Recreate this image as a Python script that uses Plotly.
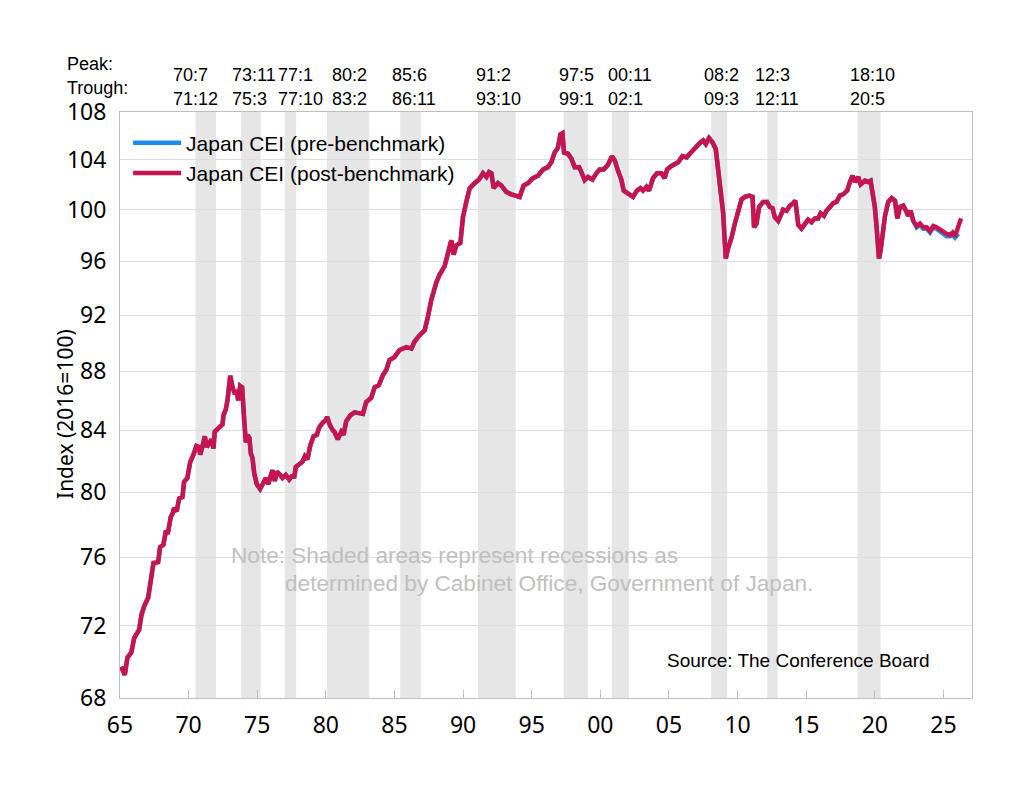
import math
import plotly.graph_objects as go

# ---------------- data ----------------
years = [
    1965.08, 1965.35, 1965.54, 1965.83, 1966.03, 1966.39, 1966.56, 1966.76, 1967.05, 1967.24,
    1967.44, 1967.78, 1967.92, 1968.16, 1968.33, 1968.50, 1968.70, 1968.85, 1968.94, 1969.13,
    1969.31, 1969.55, 1969.67, 1969.91, 1970.11, 1970.35, 1970.57, 1970.77, 1970.84, 1971.00,
    1971.18, 1971.32, 1971.50, 1971.67, 1971.81, 1971.90, 1972.23, 1972.47, 1972.54, 1972.71,
    1972.83, 1973.03, 1973.20, 1973.37, 1973.51, 1973.61, 1973.76, 1973.90, 1974.05, 1974.17,
    1974.29, 1974.43, 1974.53, 1974.65, 1974.78, 1974.97, 1975.21, 1975.46, 1975.63, 1975.80,
    1975.94, 1976.11, 1976.28, 1976.43, 1976.67, 1976.84, 1977.08, 1977.33, 1977.50, 1977.70,
    1977.81, 1978.06, 1978.30, 1978.47, 1978.66, 1978.86, 1979.10, 1979.34, 1979.52, 1979.76,
    1980.00, 1980.10, 1980.27, 1980.50, 1980.63, 1980.87, 1981.12, 1981.29, 1981.48, 1981.78,
    1982.09, 1982.40, 1982.70, 1982.94, 1983.31, 1983.55, 1983.86, 1984.16, 1984.40, 1984.64,
    1985.00, 1985.37, 1985.86, 1986.23, 1986.47, 1986.83, 1987.20, 1987.44, 1987.68, 1988.05,
    1988.29, 1988.65, 1988.90, 1989.14, 1989.31, 1989.50, 1989.80, 1989.99, 1990.23, 1990.48,
    1990.84, 1991.16, 1991.45, 1991.70, 1991.89, 1992.06, 1992.23, 1992.54, 1992.79, 1993.15,
    1993.52, 1993.88, 1994.12, 1994.41, 1994.73, 1995.09, 1995.46, 1995.82, 1996.18, 1996.43,
    1996.67, 1996.91, 1997.09, 1997.24, 1997.35, 1997.64, 1997.89, 1998.13, 1998.45, 1998.62,
    1998.86, 1999.10, 1999.42, 1999.71, 1999.95, 2000.25, 2000.56, 2000.85, 2001.05, 2001.29,
    2001.54, 2001.70, 2001.95, 2002.20, 2002.38, 2002.67, 2002.92, 2003.11, 2003.36, 2003.55,
    2003.84, 2004.13, 2004.45, 2004.69, 2004.86, 2005.18, 2005.50, 2005.67, 2005.98, 2006.28,
    2006.52, 2006.81, 2007.00, 2007.25, 2007.49, 2007.68, 2007.92, 2008.17, 2008.41, 2008.58,
    2008.83, 2008.95, 2009.07, 2009.14, 2009.31, 2009.56, 2009.80, 2010.04, 2010.29, 2010.53,
    2010.84, 2011.09, 2011.20, 2011.38, 2011.57, 2011.86, 2012.15, 2012.35, 2012.55, 2012.71,
    2012.96, 2013.13, 2013.32, 2013.57, 2013.81, 2014.05, 2014.20, 2014.30, 2014.42, 2014.66,
    2014.90, 2015.14, 2015.39, 2015.63, 2015.87, 2016.05, 2016.29, 2016.48, 2016.73, 2016.97,
    2017.21, 2017.45, 2017.69, 2017.99, 2018.18, 2018.38, 2018.55, 2018.79, 2018.96, 2019.28,
    2019.52, 2019.69, 2019.88, 2020.00, 2020.13, 2020.30, 2020.42, 2020.57, 2020.74, 2020.98,
    2021.23, 2021.47, 2021.64, 2021.84, 2022.07, 2022.27, 2022.43, 2022.61, 2022.80, 2023.05,
    2023.29, 2023.53, 2023.78, 2024.02, 2024.26, 2024.50, 2024.75, 2024.99, 2025.23, 2025.47,
    2025.67, 2025.84, 2025.96, 2026.13, 2026.28,
]

post_benchmark = [
    69.7, 69.25, 70.2, 70.5, 71.3, 71.75, 72.6, 73.1, 73.6, 74.5,
    75.65, 75.7, 76.6, 76.75, 77.5, 77.5, 78.45, 78.7, 79.0, 78.8,
    79.6, 79.7, 80.65, 80.9, 81.9, 82.4, 82.97, 82.9, 82.4, 82.9,
    83.6, 82.9, 83.2, 83.4, 82.8, 83.9, 84.2, 84.4, 85.0, 85.4,
    86.0, 87.7, 86.9, 86.45, 86.7, 86.0, 87.0, 86.9, 84.7, 83.2,
    83.7, 83.5, 82.5, 82.2, 81.2, 80.5, 80.2, 80.6, 80.9, 80.5,
    81.0, 81.4, 80.7, 81.3, 81.1, 80.9, 81.1, 80.8, 81.0, 81.0,
    81.6, 81.8, 81.95, 82.3, 82.1, 83.0, 83.6, 83.7, 84.2, 84.5,
    84.7, 84.9, 84.4, 84.0, 83.9, 83.4, 83.9, 83.7, 84.6, 85.0,
    85.2, 85.15, 85.1, 85.9, 86.2, 86.9, 87.05, 87.75, 88.1, 88.8,
    89.0, 89.5, 89.7, 89.6, 90.1, 90.55, 90.9, 91.9, 93.1, 94.4,
    95.0, 95.6, 96.5, 97.6, 96.5, 97.2, 97.4, 99.4, 100.6, 101.7,
    102.1, 102.4, 102.9, 102.6, 103.0, 102.9, 101.7, 102.1, 101.9, 101.4,
    101.2, 101.1, 101.0, 101.9, 102.1, 102.5, 102.7, 103.2, 103.4, 103.8,
    104.6, 105.0, 106.1, 106.2, 104.6, 104.5, 104.1, 103.4, 103.4, 103.0,
    102.35, 102.6, 102.4, 102.9, 103.2, 103.2, 103.6, 104.3, 103.95, 103.1,
    102.35, 101.5, 101.3, 101.1, 101.0, 101.5, 101.7, 101.5, 101.8, 101.5,
    102.5, 102.9, 102.9, 102.5, 103.2, 103.5, 103.7, 103.8, 104.3, 104.2,
    104.5, 104.9, 105.1, 105.4, 105.6, 105.3, 105.8, 105.45, 104.9, 103.2,
    101.3, 99.7, 97.4, 96.2, 97.0, 97.8, 98.9, 99.8, 100.8, 101.0,
    101.1, 101.0, 98.6, 98.9, 100.2, 100.6, 100.6, 100.2, 100.1, 99.4,
    99.1, 99.5, 100.0, 99.9, 100.3, 100.5, 100.7, 99.9, 98.8, 98.5,
    98.8, 99.2, 99.0, 99.3, 99.3, 99.7, 99.5, 99.9, 100.2, 100.5,
    100.6, 101.1, 101.2, 101.5, 102.2, 102.7, 102.2, 102.6, 102.0, 102.3,
    102.2, 102.3, 101.0, 100.2, 98.6, 96.2, 96.8, 98.2, 99.5, 100.6,
    100.9, 100.7, 99.3, 100.2, 100.3, 99.9, 99.5, 99.9, 99.1, 98.7,
    98.9, 98.6, 98.6, 98.3, 98.7, 98.6, 98.4, 98.2, 98.1, 98.0,
    98.2, 97.9, 98.3, 98.6, 99.3,
]

# pre-benchmark differs only at the end of the sample
pre_tail_years = [2023.05, 2023.29, 2023.53, 2023.78, 2024.02, 2024.26, 2024.50, 2024.75,
                  2024.99, 2025.23, 2025.47, 2025.67, 2025.84, 2025.96, 2026.08]
pre_tail_values = [98.6, 98.8, 98.5, 98.5, 98.2, 98.6, 98.5, 98.3,
                   98.1, 97.9, 97.9, 98.0, 97.8, 98.0, 98.1]

# recessions (peak, trough) as year, month
peaks = [(1970, 7), (1973, 11), (1977, 1), (1980, 2), (1985, 6), (1991, 2),
         (1997, 5), (2000, 11), (2008, 2), (2012, 3), (2018, 10)]
troughs = [(1971, 12), (1975, 3), (1977, 10), (1983, 2), (1986, 11), (1993, 10),
           (1999, 1), (2002, 1), (2009, 3), (2012, 11), (2020, 5)]
peak_labels = ["70:7", "73:11", "77:1", "80:2", "85:6", "91:2", "97:5", "00:11", "08:2", "12:3", "18:10"]
trough_labels = ["71:12", "75:3", "77:10", "83:2", "86:11", "93:10", "99:1", "02:1", "09:3", "12:11", "20:5"]
label_x = [1968.75, 1973.05, 1976.33, 1980.27, 1984.65, 1990.77, 1996.83, 2000.40, 2007.40, 2011.10, 2018.03]

x_tickvals = [1965, 1970, 1975, 1980, 1985, 1990, 1995, 2000, 2005, 2010, 2015, 2020, 2025]
x_ticktext = ["65", "70", "75", "80", "85", "90", "95", "00", "05", "10", "15", "20", "25"]
y_tickvals = [68, 72, 76, 80, 84, 88, 92, 96, 100, 104, 108]

# ---------------- figure ----------------
cut = years.index(pre_tail_years[0])
pre_years = years[:cut] + pre_tail_years
pre_values = post_benchmark[:cut] + pre_tail_values

fig = go.Figure()
fig.add_trace(go.Scatter(x=pre_years, y=pre_values, mode="lines",
                         name="Japan CEI (pre-benchmark)",
                         line=dict(color="#1C8CF0", width=4.5)))
fig.add_trace(go.Scatter(x=years, y=post_benchmark, mode="lines",
                         name="Japan CEI (post-benchmark)",
                         line=dict(color="#C8134F", width=4.5)))

shapes = []
for (py, pm), (ty, tm) in zip(peaks, troughs):
    shapes.append(dict(type="rect", xref="x", yref="paper",
                       x0=py + (pm - 1) / 12, x1=ty + tm / 12, y0=0, y1=1,
                       fillcolor="#E6E6E6", line=dict(width=0), layer="below"))

ann = []
lab_font = dict(family="Liberation Sans, Arial", size=18, color="#000000")
for lx, pl, tl in zip(label_x, peak_labels, trough_labels):
    ann.append(dict(x=lx, y=1.063, xref="x", yref="paper", text=pl, showarrow=False,
                    xanchor="left", yanchor="middle", font=lab_font))
    ann.append(dict(x=lx, y=1.022, xref="x", yref="paper", text=tl, showarrow=False,
                    xanchor="left", yanchor="middle", font=lab_font))
ann.append(dict(x=-0.0646, y=1.082, xref="paper", yref="paper", text="Peak:", showarrow=False,
                xanchor="left", yanchor="middle", font=lab_font))
ann.append(dict(x=-0.0646, y=1.041, xref="paper", yref="paper", text="Trough:", showarrow=False,
                xanchor="left", yanchor="middle", font=lab_font))
note_font = dict(family="Liberation Sans, Arial", size=22.6, color="#C0C0C0")
ann.append(dict(x=0.128, y=0.244, xref="paper", yref="paper",
                text="Note: Shaded areas represent recessions as", showarrow=False,
                xanchor="left", yanchor="middle", font=note_font))
ann.append(dict(x=0.1913, y=0.196, xref="paper", yref="paper",
                text="determined by Cabinet Office, Government of Japan.", showarrow=False,
                xanchor="left", yanchor="middle", font=note_font))
ann.append(dict(x=0.6397, y=0.0648, xref="paper", yref="paper",
                text="Source: The Conference Board", showarrow=False,
                xanchor="left", yanchor="middle",
                font=dict(family="Liberation Sans, Arial", size=19, color="#000000")))
ann.append(dict(x=-0.0646, y=0.4846, xref="paper", yref="paper", text="Index (2016=100)",
                showarrow=False, textangle=-90, xanchor="center", yanchor="middle",
                font=dict(family="Noto Sans", size=21, color="#000000")))

fig.update_layout(
    width=1036, height=792,
    margin=dict(l=120, r=64, t=112, b=94, autoexpand=False),
    paper_bgcolor="white", plot_bgcolor="white",
    shapes=shapes, annotations=ann,
    showlegend=True,
    legend=dict(x=0.0095, y=0.982, xanchor="left", yanchor="top",
                bgcolor="rgba(0,0,0,0)", borderwidth=0, itemwidth=48,
                font=dict(family="Liberation Sans, Arial", size=21, color="#000000"),
                tracegroupgap=0),
    xaxis=dict(range=[1965, 2027.08], tickvals=x_tickvals, ticktext=x_ticktext,
               showgrid=False, zeroline=False, showline=True, mirror=True,
               linecolor="#BFBFBF", linewidth=1,
               ticks="inside", ticklen=8, tickcolor="#BFBFBF", ticklabelstandoff=6,
               tickfont=dict(family="Noto Sans", size=23, color="#000000")),
    yaxis=dict(type="log", range=[math.log10(68), math.log10(108)],
               tickvals=y_tickvals, ticktext=[str(v) for v in y_tickvals],
               showgrid=True, gridcolor="#DEDEDE", gridwidth=1,
               zeroline=False, showline=True, mirror=True,
               linecolor="#BFBFBF", linewidth=1, ticks="", ticklabelstandoff=8,
               tickfont=dict(family="Noto Sans", size=23, color="#000000")),
)

fig.write_html("out.html")
